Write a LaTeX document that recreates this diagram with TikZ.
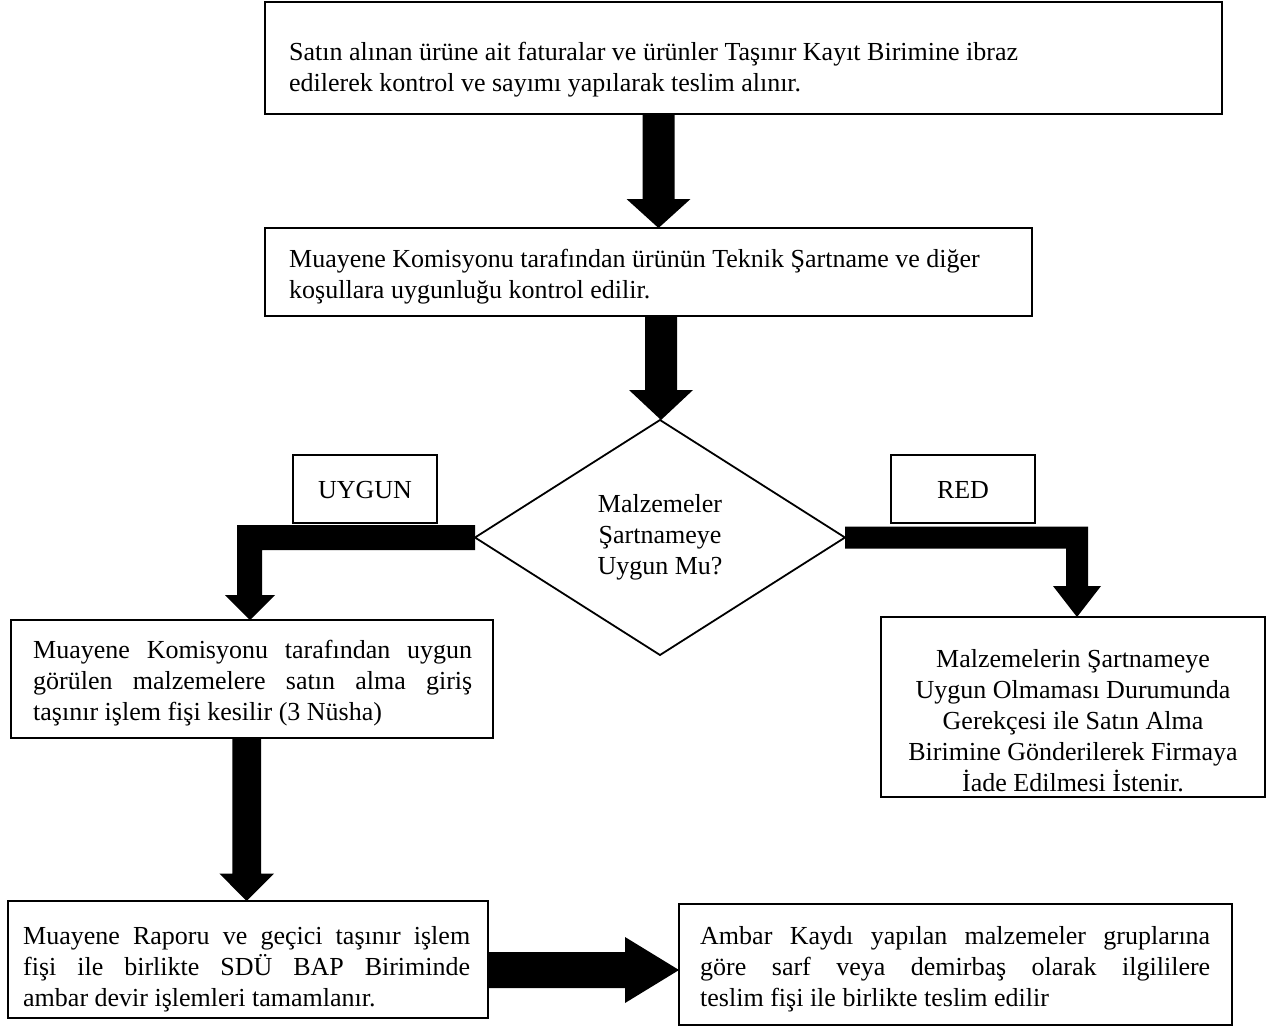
\documentclass[tikz,border=0pt]{standalone}
\usepackage{fontspec}
\setmainfont{Liberation Serif}
\usetikzlibrary{shapes.geometric,calc}
\newcommand\blkdown[6]{%
  \fill let \p1=(#1.south), \p2=(#2.north) in
   ({(#3-#4)*1pt},\y1) -- ({(#3+#4)*1pt},\y1) -- ({(#3+#4)*1pt},{\y2+#6pt})
   -- ({(#3+#5)*1pt},{\y2+#6pt}) -- ({#3*1pt},\y2) -- ({(#3-#5)*1pt},{\y2+#6pt})
   -- ({(#3-#4)*1pt},{\y2+#6pt}) -- cycle;}
\begin{document}
\begin{tikzpicture}[x=1pt,y=-1pt,
  box/.style={draw,line width=2pt,inner sep=0pt,outer sep=0pt,anchor=north west},
  txt/.style={inner sep=0pt,align=left,font=\fontsize{26}{31}\selectfont},
  ctxt/.style={inner sep=0pt,align=center,font=\fontsize{26}{31}\selectfont}]
\useasboundingbox[fill=white] (0,0) rectangle (1279,1028);

% boxes
\node[box,minimum width=957pt,minimum height=112pt] (b1) at (265,2) {};
\node[box,minimum width=767pt,minimum height=88pt] (b2) at (265,228) {};
\node[box,minimum width=144pt,minimum height=68pt] (yes) at (293,455) {};
\node[box,minimum width=144pt,minimum height=68pt] (no) at (891,455) {};
\node[box,minimum width=482pt,minimum height=118pt] (b3) at (11,620) {};
\node[box,minimum width=384pt,minimum height=180pt] (b4) at (881,617) {};
\node[box,minimum width=480pt,minimum height=117pt] (b5) at (8,901) {};
\node[box,minimum width=553pt,minimum height=121pt] (b6) at (679,904) {};
\node[draw,diamond,line width=1.8pt,minimum width=370pt,minimum height=235pt,
      inner sep=0pt,outer sep=0pt,ctxt] (d) at (660,537.5) {Malzemeler\\Şartnameye\\Uygun Mu?};

% texts
\node[txt,anchor=west] (t1) at (289,70) {Satın alınan ürüne ait faturalar ve ürünler Taşınır Kayıt Birimine ibraz\\edilerek kontrol ve sayımı yapılarak teslim alınır.};
\node[txt,anchor=west] (t2) at (289,277) {Muayene Komisyonu tarafından ürünün Teknik Şartname ve diğer\\koşullara uygunluğu kontrol edilir.};
\node[ctxt] (tyes) at (365,490) {UYGUN};
\node[ctxt] (tno) at (963,490) {RED};
\node[txt,anchor=west] (t3) at (33,683) {\makebox[439pt][s]{Muayene Komisyonu tarafından uygun}\\\makebox[439pt][s]{görülen malzemelere satın alma giriş}\\taşınır işlem fişi kesilir (3 Nüsha)};
\node[ctxt] (t4) at (1073,721) {Malzemelerin Şartnameye\\Uygun Olmaması Durumunda\\Gerekçesi ile Satın Alma\\Birimine Gönderilerek Firmaya\\İade Edilmesi İstenir.};
\node[txt,anchor=west] (t5) at (23,969) {\makebox[447pt][s]{Muayene Raporu ve geçici taşınır işlem}\\\makebox[447pt][s]{fişi ile birlikte SDÜ BAP Biriminde}\\ambar devir işlemleri tamamlanır.};
\node[txt,anchor=west] (t6) at (700,969) {\makebox[510pt][s]{Ambar Kaydı yapılan malzemeler gruplarına}\\\makebox[510pt][s]{göre sarf veya demirbaş olarak ilgililere}\\teslim fişi ile birlikte teslim edilir};

% block arrows
\blkdown{b1}{b2}{658.5}{16}{32}{29}
\blkdown{b2}{d}{661}{16}{32}{30}
\blkdown{b3}{b5}{246.7}{14.3}{27.3}{27.4}

\fill let \p1=(d.west), \p2=(b3.north) in
  (\x1,{\y1+12.5pt}) -- (237pt,{\y1+12.5pt}) -- (237pt,{\y2+25pt}) -- (225pt,{\y2+25pt})
  -- (250pt,\y2) -- (275pt,{\y2+25pt}) -- (262pt,{\y2+25pt}) -- (262pt,{\y1-12.5pt})
  -- (\x1,{\y1-12.5pt}) -- cycle;
\fill let \p1=(d.east), \p2=(b4.north) in
  (\x1,{\y1+11pt}) -- (1088pt,{\y1+11pt}) -- (1088pt,{\y2+31pt}) -- (1101pt,{\y2+31pt})
  -- (1077pt,\y2) -- (1053pt,{\y2+31pt}) -- (1066pt,{\y2+31pt}) -- (1066pt,{\y1-11pt})
  -- (\x1,{\y1-11pt}) -- cycle;
\fill let \p1=(b5.east), \p2=(b6.west) in
  (\x1,-952pt) -- (625pt,-952pt) -- (625pt,-937pt) -- (\x2,-970pt)
  -- (625pt,-1003pt) -- (625pt,-988pt) -- (\x1,-988pt) -- cycle;
\end{tikzpicture}
\end{document}
